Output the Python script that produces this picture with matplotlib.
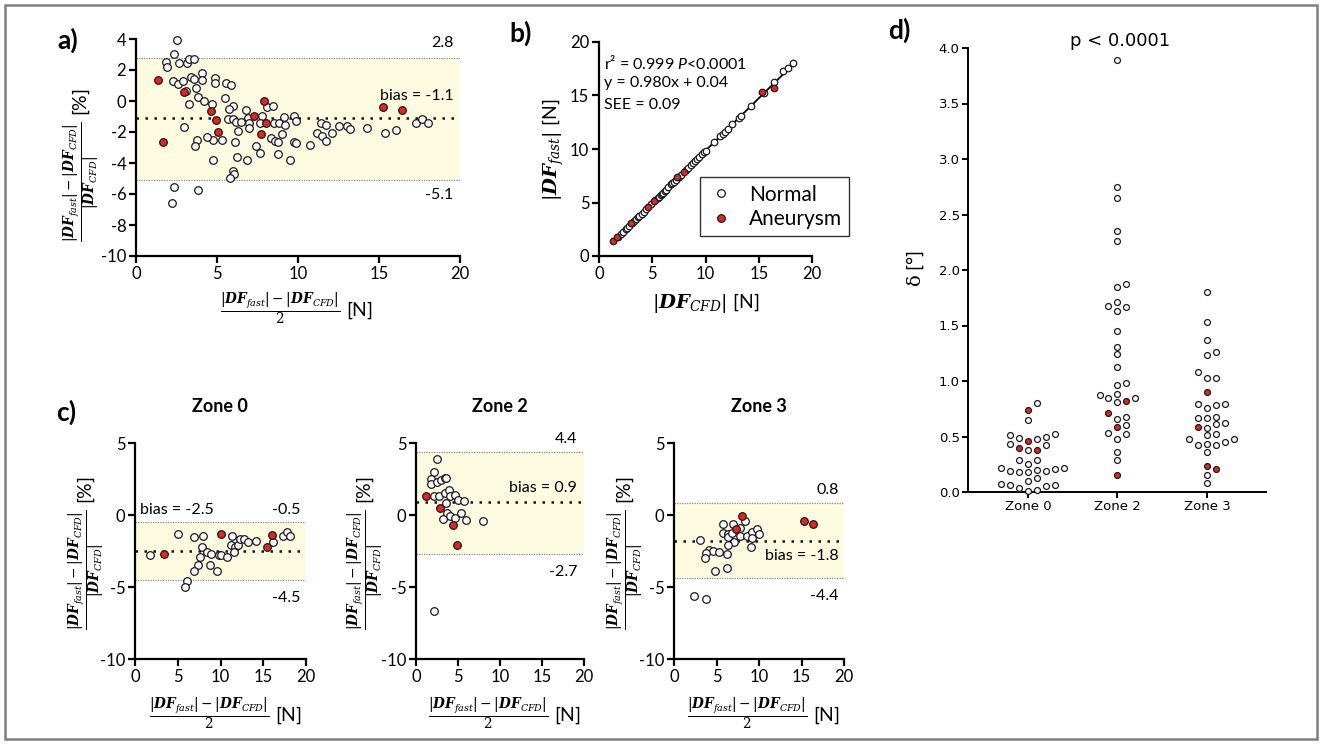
import numpy as np
import matplotlib
matplotlib.use("Agg")
import matplotlib.pyplot as plt
from matplotlib.patches import Rectangle
from matplotlib.lines import Line2D

plt.rcParams['font.family'] = ['Lato', 'DejaVu Sans']
plt.rcParams['axes.unicode_minus'] = False
plt.rcParams['mathtext.fontset'] = 'custom'
plt.rcParams['mathtext.rm'] = 'DejaVu Serif'
plt.rcParams['mathtext.it'] = 'DejaVu Serif:italic'
plt.rcParams['mathtext.bf'] = 'DejaVu Serif:italic:bold'
plt.rcParams['mathtext.sf'] = 'Lato:italic'

RED = '#e8221e'
BAND = '#fefce0'

# ---- panel a: Bland-Altman, all zones ----
a_norm_mean = [2.55, 2.37, 1.85, 1.91, 2.63, 3.15, 3.29, 3.6, 2.26, 2.57, 2.88, 3.40, 3.56, 4.07,
               4.05, 4.88, 4.88, 5.56, 5.86, 3.09, 3.70, 3.29, 3.81, 4.18, 4.69, 5.47, 6.01, 5.72,
               5.66, 5.97, 6.17, 6.48, 6.79, 6.93, 6.95, 6.95, 7.80, 8.09, 8.44, 7.67, 8.5, 8.8,
               9.16, 9.22, 9.75, 9.86, 8.35, 8.6, 8.79, 9.01, 9.77, 9.88, 7.43, 7.63, 8.79, 9.5,
               6.28, 6.87, 6.23, 6.11, 5.31, 4.77, 4.40, 3.79, 3.62, 2.98, 4.73, 6.0, 6.05, 5.80,
               2.37, 3.81, 2.22, 10.74, 11.2, 11.4, 11.7, 11.46, 11.7, 12.1, 12.5, 13.0, 13.2,
               14.24, 15.4, 16.05, 17.3, 17.65, 18.05]
a_norm_diff = [3.94, 3.01, 2.49, 2.21, 2.43, 2.47, 2.71, 2.69, 1.31, 1.10, 1.31, 1.57, 1.40, 1.83,
               1.35, 1.46, 1.18, 1.14, 1.03, 0.65, 0.82, -0.19, 0.28, 0.0, -0.19, 0.17, -0.30, -0.52,
               -1.18, -1.18, -1.33, -1.38, -0.58, -1.12, -1.44, -1.76, -0.95, -0.37, -0.32, -1.44, -1.40, -1.44,
               -1.05, -1.55, -0.97, -1.27, -2.41, -2.56, -2.62, -2.13, -2.67, -2.73, -2.88, -3.38, -3.42, -3.81,
               -1.91, -3.81, -3.59, -2.67, -2.52, -2.52, -2.34, -2.52, -2.9, -1.70, -3.81, -4.52, -4.73, -4.99,
               -5.53, -5.74, -6.6, -2.86, -2.09, -1.42, -1.58, -2.25, -2.56, -2.06, -1.62, -1.62, -1.82,
               -1.76, -2.06, -1.84, -1.42, -1.17, -1.41]
a_aneu_mean = [1.34, 2.98, 4.61, 4.96, 5.08, 7.28, 7.92, 8.0, 7.7, 1.65, 15.27, 16.4]
a_aneu_diff = [1.35, 0.6, -0.62, -1.23, -2.02, -0.97, 0.02, -1.40, -2.13, -2.67, -0.37, -0.56]
a_limits = (2.8, -1.1, -5.1)

# ---- panel b: correlation ----
b_norm_cfd = [1.8, 2.1, 2.3, 2.5, 2.6, 2.8, 3.1, 3.3, 3.5, 3.7, 3.8, 4.0, 4.2, 4.4, 4.9, 5.3, 5.5,
              5.6, 5.8, 5.9, 6.0, 6.2, 6.3, 6.5, 6.8, 6.9, 7.0, 7.2, 7.5, 7.7, 8.2, 8.4, 8.6, 8.8,
              9.0, 9.2, 9.4, 9.7, 9.9, 10.0, 10.8, 11.4, 11.6, 11.8, 12.1, 12.5, 13.1, 13.3, 14.3,
              15.5, 16.4, 17.3, 17.7, 18.2]
b_norm_fast = [1.80, 2.09, 2.28, 2.50, 2.58, 2.78, 3.06, 3.27, 3.46, 3.66, 3.76, 3.95, 4.15, 4.35,
               4.84, 5.24, 5.43, 5.53, 5.72, 5.82, 5.92, 6.12, 6.21, 6.41, 6.70, 6.80, 6.90, 7.10,
               7.39, 7.58, 8.08, 8.27, 8.47, 8.66, 8.86, 9.05, 9.25, 9.54, 9.73, 9.84, 10.63, 11.21,
               11.41, 11.60, 11.90, 12.29, 12.88, 13.07, 14.05, 15.23, 16.3, 17.25, 17.6, 18.0]
b_aneu_cfd = [1.31, 1.69, 2.97, 4.6, 5.13, 7.32, 7.98, 15.3, 16.43]
b_aneu_fast = [1.44, 1.75, 3.06, 4.62, 5.12, 7.36, 7.89, 15.29, 15.69]
reg_slope, reg_intercept = 0.980, 0.04

# ---- panel c: Bland-Altman per zone ----
z0_norm_mean = [1.7, 5.0, 6.9, 8.0, 7.8, 8.4, 8.9, 9.8, 10.0, 10.8, 7.6, 7.4, 8.8, 6.9, 9.6, 6.1,
                5.9, 11.4, 11.2, 11.7, 11.6, 12.1, 12.3, 12.7, 13.2, 14.2, 16.1, 17.3, 17.8, 18.1]
z0_norm_diff = [-2.75, -1.3, -1.55, -1.45, -2.2, -2.55, -2.7, -2.75, -2.8, -2.95, -2.9, -3.45, -3.45,
                -3.9, -3.9, -4.6, -5.0, -1.45, -2.1, -2.25, -2.6, -2.05, -1.7, -1.7, -1.9, -1.8,
                -1.9, -1.45, -1.2, -1.45]
z0_aneu_mean = [3.4, 10.0, 15.4, 16.0]
z0_aneu_diff = [-2.7, -1.3, -2.2, -1.4]
z0_limits = (-0.5, -2.5, -4.5)

z2_norm_mean = [2.5, 2.2, 1.8, 1.75, 2.55, 3.0, 3.4, 3.6, 2.2, 2.7, 3.4, 3.9, 4.0, 4.7, 5.0, 5.75,
                3.6, 3.65, 4.0, 3.2, 4.6, 5.4, 5.9, 8.0, 2.1]
z2_norm_diff = [3.9, 3.0, 2.5, 2.15, 2.3, 2.4, 2.6, 2.55, 1.3, 1.3, 1.5, 1.75, 1.3, 1.4, 1.05, 1.0,
                0.8, 0.15, -0.05, -0.3, -0.2, 0.12, -0.35, -0.45, -6.7]
z2_aneu_mean = [1.2, 2.8, 4.45, 4.9]
z2_aneu_diff = [1.3, 0.5, -0.7, -2.1]
z2_limits = (4.4, 0.9, -2.7)

z3_norm_mean = [8.4, 5.8, 6.9, 5.75, 6.3, 6.4, 6.85, 7.05, 7.8, 7.75, 8.55, 9.2, 9.8, 10.0, 9.2, 9.1,
                6.3, 3.0, 4.1, 4.6, 5.3, 6.2, 3.8, 3.6, 4.8, 6.2, 2.35, 3.8]
z3_norm_diff = [-0.4, -0.6, -0.6, -1.25, -1.3, -1.5, -1.25, -1.85, -1.45, -0.9, -1.45, -1.15, -1.0,
                -1.35, -1.6, -2.2, -2.1, -1.75, -2.45, -2.5, -2.6, -2.7, -2.65, -3.0, -3.9, -3.65,
                -5.6, -5.8]
z3_aneu_mean = [8.0, 7.3, 15.3, 16.4]
z3_aneu_diff = [-0.05, -1.0, -0.45, -0.6]
z3_limits = (0.8, -1.8, -4.4)

# ---- panel d: delta angle per zone ----
zones = ['Zone 0', 'Zone 2', 'Zone 3']
d_norm = [
    [0.80, 0.65, 0.51, 0.49, 0.48, 0.50, 0.52, 0.43, 0.38, 0.42, 0.29, 0.25, 0.29, 0.22, 0.20,
     0.19, 0.18, 0.18, 0.19, 0.21, 0.22, 0.13, 0.10, 0.075, 0.06, 0.04, 0.01, 0.02, 0.05, 0.066],
    [3.895, 2.75, 2.65, 2.35, 2.26, 1.85, 1.87, 1.68, 1.71, 1.63, 1.67, 1.45, 1.31, 1.24, 1.13,
     0.985, 0.96, 0.87, 0.88, 0.85, 0.81, 0.85, 0.68, 0.66, 0.60, 0.53, 0.525, 0.48, 0.36, 0.29],
    [1.80, 1.53, 1.37, 1.26, 1.23, 1.08, 1.03, 1.03, 0.79, 0.78, 0.76, 0.79, 0.67, 0.68, 0.67,
     0.62, 0.61, 0.58, 0.51, 0.525, 0.48, 0.48, 0.42, 0.42, 0.45, 0.43, 0.36, 0.15, 0.08],
]
d_aneu = [
    [0.74, 0.46, 0.38, 0.40],
    [0.82, 0.71, 0.59, 0.15],
    [0.90, 0.59, 0.21, 0.23],
]

W, H = 1322, 744
fig = plt.figure(figsize=(W / 100, H / 100), dpi=100)


def rect(l, t, r, b):
    return [l / W, 1 - b / H, (r - l) / W, (b - t) / H]


def style(ax, lw=1.6, size=12):
    for s in ['top', 'right']:
        ax.spines[s].set_visible(False)
    for s in ['left', 'bottom']:
        ax.spines[s].set_linewidth(lw)
    ax.tick_params(direction='out', length=5, width=lw, labelsize=size, pad=2)


def bland(ax, xn, yn, xa, ya, lims, ylim, yticks, s=30):
    up, bias, lo = lims
    ax.axhspan(lo, up, color=BAND, lw=0, zorder=0)
    ax.axhline(up, color='#8a8a8a', ls=(0, (1, 1)), lw=0.9, zorder=1)
    ax.axhline(lo, color='#8a8a8a', ls=(0, (1, 1)), lw=0.9, zorder=1)
    ax.axhline(bias, color='#111111', ls=(0, (1, 2.6)), lw=1.8, zorder=1)
    ax.scatter(xn, yn, s=s, facecolor='white', edgecolor='#1a1a1a', lw=0.9, zorder=3, clip_on=False)
    ax.scatter(xa, ya, s=s, facecolor=RED, edgecolor='#1a1a1a', lw=0.9, zorder=4, clip_on=False)
    ax.set_xlim(0, 20)
    ax.set_ylim(*ylim)
    ax.set_xticks([0, 5, 10, 15, 20])
    ax.set_yticks(yticks)
    style(ax)


ylab_frac = (r'$\frac{|\mathbf{DF}_{fast}|-|\mathbf{DF}_{CFD}|}{|\mathbf{DF}_{CFD}|}$ [%]')
xlab_frac = (r'$\frac{|\mathbf{DF}_{fast}|-|\mathbf{DF}_{CFD}|}{2}$ [N]')
FRAC_FS = 14

# panel a
axa = fig.add_axes(rect(136, 39, 460, 256))
bland(axa, a_norm_mean, a_norm_diff, a_aneu_mean, a_aneu_diff, a_limits, (-10, 4),
      [-10, -8, -6, -4, -2, 0, 2, 4])
axa.text(19.6, 3.75, '2.8', ha='right', va='center', fontsize=11.5)
axa.text(19.6, 0.32, 'bias = -1.1', ha='right', va='center', fontsize=11.5)
axa.text(19.6, -6.05, '-5.1', ha='right', va='center', fontsize=11.5)
fig.text(83 / W, 1 - 165 / H, ylab_frac, rotation=90, ha='center', va='center', fontsize=FRAC_FS)
fig.text(297 / W, 1 - 310 / H, xlab_frac, ha='center', va='center', fontsize=FRAC_FS)

# panel b
axb = fig.add_axes(rect(599, 42, 812, 256))
xl = np.array([min(b_aneu_cfd), max(b_norm_cfd)])
axb.plot(xl, reg_slope * xl + reg_intercept, color='black', lw=1.3, zorder=2)
axb.scatter(b_norm_cfd, b_norm_fast, s=22, facecolor='white', edgecolor='#1a1a1a', lw=0.9, zorder=3)
axb.scatter(b_aneu_cfd, b_aneu_fast, s=22, facecolor=RED, edgecolor='#1a1a1a', lw=0.9, zorder=4)
axb.set_xlim(0, 20)
axb.set_ylim(0, 20)
axb.set_xticks([0, 5, 10, 15, 20])
axb.set_yticks([0, 5, 10, 15, 20])
style(axb)
axb.text(0.45, 18.07, r'r² = 0.999 $\mathsf{P}$<0.0001', ha='left', va='center', fontsize=11.5)
axb.text(0.45, 16.14, 'y = 0.980x + 0.04', ha='left', va='center', fontsize=11.5)
axb.text(0.45, 14.1, 'SEE = 0.09', ha='left', va='center', fontsize=11.5)
fig.text(553 / W, 1 - 150 / H, r'$|\mathbf{DF}_{fast}|$ [N]', rotation=90, ha='center',
         va='center', fontsize=14)
fig.text(706 / W, 1 - 303 / H, r'$|\mathbf{DF}_{CFD}|$ [N]', ha='center', va='center', fontsize=14)
handles = [
    Line2D([], [], ls='none', marker='o', ms=5.5, mfc='white', mec='#1a1a1a', mew=0.9),
    Line2D([], [], ls='none', marker='o', ms=5.5, mfc=RED, mec='#1a1a1a', mew=0.9),
]
leg = axb.legend(handles, ['Normal', 'Aneurysm'], loc='lower left', bbox_to_anchor=(0.474, 0.093),
                 fontsize=15, frameon=True, fancybox=False, borderpad=0.35, handletextpad=0.7,
                 labelspacing=0.2, handlelength=1.3, borderaxespad=0)
leg.get_frame().set_edgecolor('black')
leg.get_frame().set_linewidth(1.0)

# panel c
c_specs = [
    (135, 306, z0_norm_mean, z0_norm_diff, z0_aneu_mean, z0_aneu_diff, z0_limits, 'Zone 0', 220,
     [(0.58, 0.35, 'bias = -2.5', 'left'), (19.3, 0.35, '-0.5', 'right'), (19.3, -5.76, '-4.5', 'right')],
     88),
    (416, 584, z2_norm_mean, z2_norm_diff, z2_aneu_mean, z2_aneu_diff, z2_limits, 'Zone 2', 500,
     [(19.2, 5.26, '4.4', 'right'), (19.2, 1.85, 'bias = 0.9', 'right'), (19.2, -3.93, '-2.7', 'right')],
     367),
    (674, 844, z3_norm_mean, z3_norm_diff, z3_aneu_mean, z3_aneu_diff, z3_limits, 'Zone 3', 759,
     [(19.4, 1.74, '0.8', 'right'), (19.4, -2.82, 'bias = -1.8', 'right'), (19.4, -5.63, '-4.4', 'right')],
     627),
]
for l, r, xn, yn, xa, ya, lims, title, cx, notes, ylx in c_specs:
    ax = fig.add_axes(rect(l, 443, r, 659))
    bland(ax, xn, yn, xa, ya, lims, (-10, 5), [-10, -5, 0, 5])
    for tx, ty, s, ha in notes:
        ax.text(tx, ty, s, ha=ha, va='center', fontsize=11.5, clip_on=False)
    fig.text(cx / W, 1 - 407 / H, title, ha='center', va='center', fontsize=13, fontweight='bold')
    fig.text(ylx / W, 1 - 553 / H, ylab_frac, rotation=90, ha='center', va='center', fontsize=FRAC_FS)
    fig.text(((l + r) / 2 + 5) / W, 1 - 715 / H, xlab_frac, ha='center', va='center', fontsize=FRAC_FS)


# panel d
def swarm(vals, center, step=0.1, xpx=89.5, ypx=111.0, diam=7.6):
    vals = np.asarray(vals, dtype=float)
    xs = np.zeros(len(vals))
    placed = []
    offsets = [0.0]
    for j in range(1, 12):
        offsets += [j * step, -j * step]
    for i in np.argsort(vals):
        y = vals[i]
        for off in offsets:
            if all(((off - px) * xpx) ** 2 + ((y - py) * ypx) ** 2 >= diam ** 2 for px, py in placed):
                break
        placed.append((off, y))
        xs[i] = center + off
    return xs


axd = fig.add_axes(rect(968, 48, 1266, 492))
for k in range(3):
    allv = list(d_norm[k]) + list(d_aneu[k])
    xs = swarm(allv, k)
    n = len(d_norm[k])
    axd.scatter(xs[:n], d_norm[k], s=18, facecolor='white', edgecolor='#1a1a1a', lw=0.9,
                zorder=3, clip_on=False)
    axd.scatter(xs[n:], d_aneu[k], s=18, facecolor=RED, edgecolor='#1a1a1a', lw=0.9,
                zorder=4, clip_on=False)
axd.set_xlim(-0.67, 2.66)
axd.set_ylim(0, 4.0)
axd.set_yticks(np.arange(0, 4.01, 0.5))
axd.set_yticklabels([f'{v:.1f}' for v in np.arange(0, 4.01, 0.5)], fontfamily='DejaVu Sans')
axd.set_xticks(range(3))
axd.set_xticklabels(zones, fontfamily='DejaVu Sans')
style(axd, lw=1.4, size=9.5)
axd.tick_params(axis='both', length=4)
axd.text(1.03, 4.06, 'p < 0.0001', ha='center', va='center', fontsize=13, fontfamily='DejaVu Sans')
fig.text(915 / W, 1 - 268 / H, r'$\mathrm{\delta}$ [°]', rotation=90, ha='center', va='center',
         fontsize=14)

# panel letters
for s, x, y in [('a)', 68, 40), ('b)', 521, 33), ('c)', 66, 412), ('d)', 899, 30)]:
    fig.text(x / W, 1 - y / H, s, ha='center', va='center', fontsize=19, fontweight='bold')

fig.patches.append(Rectangle((5 / W, 5 / H), 1312 / W, 734 / H, transform=fig.transFigure,
                             fill=False, edgecolor='#7f7f7f', lw=1.8))

fig.savefig('out.png', dpi=100)
